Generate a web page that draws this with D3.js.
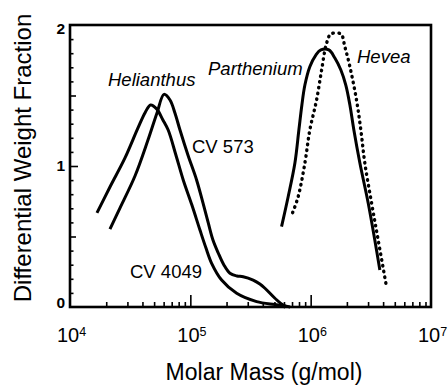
<!DOCTYPE html>
<html><head><meta charset="utf-8">
<script src="https://cdn.jsdelivr.net/npm/d3@7"></script>
<style>
html,body{margin:0;padding:0;background:#fff;}
svg{display:block;}
text{font-family:"Liberation Sans",Arial,sans-serif;fill:#000;}
</style></head>
<body>
<svg id="c" width="448" height="389"></svg>
<script>
// ---- data (log10 of molar mass, differential weight fraction) ----
const cv4049LogM = [4.224,4.332,4.457,4.565,4.625,4.670,4.720,4.770,4.816,4.880,4.941,5.013,5.080,5.130,5.177,5.260,5.385,5.551,5.728,5.790];
const cv4049W    = [0.667,0.851,1.057,1.270,1.380,1.433,1.405,1.330,1.255,1.078,0.901,0.723,0.546,0.418,0.310,0.191,0.097,0.038,0.014,0.000];
const cv573LogM  = [4.332,4.415,4.540,4.648,4.723,4.781,4.831,4.872,4.914,4.980,5.052,5.105,5.149,5.188,5.232,5.279,5.329,5.387,5.439,5.522,5.578,5.620,5.703,5.772,5.830];
const cv573W     = [0.553,0.702,0.929,1.184,1.376,1.508,1.468,1.376,1.255,1.078,0.901,0.738,0.596,0.475,0.383,0.298,0.239,0.220,0.215,0.191,0.163,0.133,0.062,0.014,0.000];
const partheniumLogM = [5.758,5.813,5.869,5.902,5.927,5.952,5.993,6.043,6.085,6.151,6.201,6.251,6.292,6.326,6.359,6.409,6.478,6.533,6.575];
const partheniumW    = [0.570,0.782,1.021,1.255,1.433,1.574,1.704,1.787,1.823,1.823,1.766,1.681,1.574,1.433,1.255,1.021,0.738,0.475,0.262];
const heveaLogM = [5.850,5.896,5.952,5.993,6.049,6.091,6.132,6.168,6.251,6.284,6.326,6.381,6.417,6.450,6.506,6.561,6.630];
const heveaW    = [0.669,0.782,1.021,1.255,1.468,1.681,1.870,1.936,1.936,1.846,1.704,1.468,1.255,1.021,0.738,0.475,0.144];

const xDecades = [1e4,1e5,1e6,1e7];
const xExponents = ["4","5","6","7"];
const yTickValues = [0,1,2];
const xTitle = "Molar Mass (g/mol)";
const yTitle = "Differential Weight Fraction";
const curveLabels = [
  {text:"Helianthus", italic:true},
  {text:"Parthenium", italic:true},
  {text:"Hevea", italic:true},
  {text:"CV 573", italic:false},
  {text:"CV 4049", italic:false}
];

// ---- layout ----
const L=70, R=431, T=25, B=307;
const svg = d3.select("#c");
const x = d3.scaleLog().domain([1e4,1e7]).range([L,R]);
const y = d3.scaleLinear().domain([0,2]).range([B,T]);

// minor x ticks
const minorX = [];
[1e4,1e5,1e6].forEach(d=>{for(let k=2;k<=9;k++) minorX.push(d*k);});
function tickAxis(axis, g){
  g.call(axis); g.select(".domain").remove();
  g.selectAll("line").attr("stroke","#000").attr("stroke-width",1.6);
}
tickAxis(d3.axisBottom(x).tickValues(minorX).tickSize(-5).tickFormat(""),
  svg.append("g").attr("transform",`translate(0,${B})`));
tickAxis(d3.axisBottom(x).tickValues([1e5,1e6]).tickSize(-12).tickFormat(""),
  svg.append("g").attr("transform",`translate(0,${B})`));
// y ticks
const yMinor = d3.range(1,20).map(i=>i/10).filter(v=>Math.abs(v-0.5)>1e-6&&Math.abs(v-1)>1e-6&&Math.abs(v-1.5)>1e-6);
tickAxis(d3.axisLeft(y).tickValues(yMinor).tickSize(-3.5).tickFormat(""),
  svg.append("g").attr("transform",`translate(${L},0)`));
tickAxis(d3.axisLeft(y).tickValues([0.5,1.5]).tickSize(-6).tickFormat(""),
  svg.append("g").attr("transform",`translate(${L},0)`));
tickAxis(d3.axisLeft(y).tickValues([1]).tickSize(-8).tickFormat(""),
  svg.append("g").attr("transform",`translate(${L},0)`));

// frame
svg.append("rect").attr("x",L).attr("y",T).attr("width",R-L).attr("height",B-T)
  .attr("fill","none").attr("stroke","#000").attr("stroke-width",2.6);

// y tick labels
svg.selectAll("text.ytl").data(yTickValues).join("text").attr("class","ytl")
  .attr("x",L-5).attr("y",d=>y(d)).attr("dy",d=>5+4*(d-1))
  .attr("text-anchor","end").attr("font-size",15.5).attr("font-weight","bold")
  .text(d=>d);

// x tick labels
const xl = svg.selectAll("text.xtl").data(xDecades).join("text").attr("class","xtl")
  .attr("x",d=>x(d)-13).attr("y",342).attr("font-size",20);
xl.append("tspan").text("10");
xl.append("tspan").attr("font-size",12.5).attr("dy",-6).text((d,i)=>xExponents[i]);

// axis titles
svg.append("text").attr("x",264).attr("y",380).attr("text-anchor","middle")
  .attr("font-size",23).text(xTitle);
svg.append("text").attr("transform","translate(30.5,158) rotate(-90)")
  .attr("text-anchor","middle").attr("font-size",24).text(yTitle);

// curves
const line = d3.line().x(d=>x(Math.pow(10,d[0]))).y(d=>y(d[1])).curve(d3.curveCatmullRom.alpha(0.5));
const zip = (a,b)=>a.map((v,i)=>[v,b[i]]);
svg.append("path").datum(zip(cv4049LogM,cv4049W)).attr("d",line)
  .attr("fill","none").attr("stroke","#000").attr("stroke-width",3).attr("stroke-linejoin","round");
svg.append("path").datum(zip(cv573LogM,cv573W)).attr("d",line)
  .attr("fill","none").attr("stroke","#000").attr("stroke-width",3).attr("stroke-linejoin","round");
svg.append("path").datum(zip(partheniumLogM,partheniumW)).attr("d",line)
  .attr("fill","none").attr("stroke","#000").attr("stroke-width",3).attr("stroke-linejoin","round");
svg.append("path").datum(zip(heveaLogM,heveaW)).attr("d",line)
  .attr("fill","none").attr("stroke","#000").attr("stroke-width",3.4)
  .attr("stroke-linecap","round").attr("stroke-dasharray","0.5,5.3");

// curve labels
const labelPos = [[108,86],[208,75],[357,63],[192,153],[130,278]];
curveLabels.forEach((c,i)=>{
  svg.append("text").attr("x",labelPos[i][0]).attr("y",labelPos[i][1])
    .attr("font-size",18.5).attr("font-style",c.italic?"italic":"normal").text(c.text);
});
</script>
</body></html>
